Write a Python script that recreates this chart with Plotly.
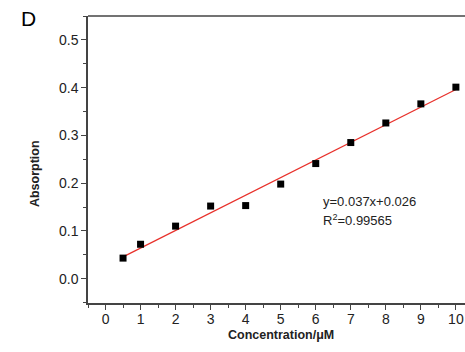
import numpy as np
import plotly.graph_objects as go

conc = [0.5, 1, 2, 3, 4, 5, 6, 7, 8, 9, 10]
absorp = [0.043, 0.072, 0.110, 0.152, 0.153, 0.198, 0.241, 0.285, 0.326, 0.366, 0.401]
x_ticks = [0, 1, 2, 3, 4, 5, 6, 7, 8, 9, 10]
y_ticks = [0.0, 0.1, 0.2, 0.3, 0.4, 0.5]

slope, intercept = np.polyfit(conc, absorp, 1)
fit_x = [min(conc), max(conc)]
fit_y = [slope * v + intercept for v in fit_x]

font = "Liberation Sans, Arial, sans-serif"
axcol = "#444444"

fig = go.Figure()
fig.add_trace(go.Scatter(x=fit_x, y=fit_y, mode="lines",
                         line=dict(color="#e8302a", width=1.2), showlegend=False))
fig.add_trace(go.Scatter(x=conc, y=absorp, mode="markers",
                         marker=dict(symbol="square", color="black", size=7),
                         showlegend=False))

fig.update_layout(
    width=465, height=352,
    margin=dict(l=88, r=0, t=16, b=49),
    paper_bgcolor="white", plot_bgcolor="white",
    font=dict(family=font, color="#222222"),
    xaxis=dict(range=[-0.5, 10.26], tickvals=x_ticks, ticks="outside", ticklen=5,
               tickwidth=1.2, tickcolor=axcol, showline=True, linecolor=axcol,
               linewidth=1.5, mirror=False, showgrid=False, zeroline=False,
               tickfont=dict(size=14), ticklabelstandoff=-3,
               minor=dict(dtick=0.5, tick0=0, ticks="outside", ticklen=3,
                          tickcolor=axcol, showgrid=False)),
    yaxis=dict(range=[-0.051, 0.55], tickvals=y_ticks, tickformat=".1f",
               ticks="outside", ticklen=5, tickwidth=1.2, tickcolor=axcol,
               showline=True, linecolor=axcol, linewidth=1.5, mirror=False,
               showgrid=False, zeroline=False, tickfont=dict(size=14),
               minor=dict(dtick=0.05, tick0=0, ticks="outside", ticklen=3,
                          tickcolor=axcol, showgrid=False)),
    shapes=[dict(type="line", xref="paper", yref="paper", x0=0, x1=1, y0=1, y1=1,
                 line=dict(color=axcol, width=1.5))],
    annotations=[
        dict(text="D", xref="paper", yref="paper", x=-0.182, y=1.04,
             xanchor="left", yanchor="top", showarrow=False,
             font=dict(size=21, color="black")),
        dict(text="<b>Absorption</b>", xref="paper", yref="paper", x=-0.14, y=0.45,
             textangle=-90, xanchor="center", yanchor="middle", showarrow=False,
             font=dict(size=12.5)),
        dict(text="<b>Concentration/μM</b>", xref="paper", yref="paper", x=0.511, y=-0.11,
             xanchor="center", yanchor="middle", showarrow=False,
             font=dict(size=12.5)),
        dict(text="y=0.037x+0.026", xref="x", yref="y", x=6.15, y=0.161,
             xanchor="left", yanchor="middle", showarrow=False, font=dict(size=13)),
        dict(text="R<sup>2</sup>=0.99565", xref="x", yref="y", x=6.15, y=0.122,
             xanchor="left", yanchor="middle", showarrow=False, font=dict(size=13)),
    ],
)

fig.write_html("out.html")
